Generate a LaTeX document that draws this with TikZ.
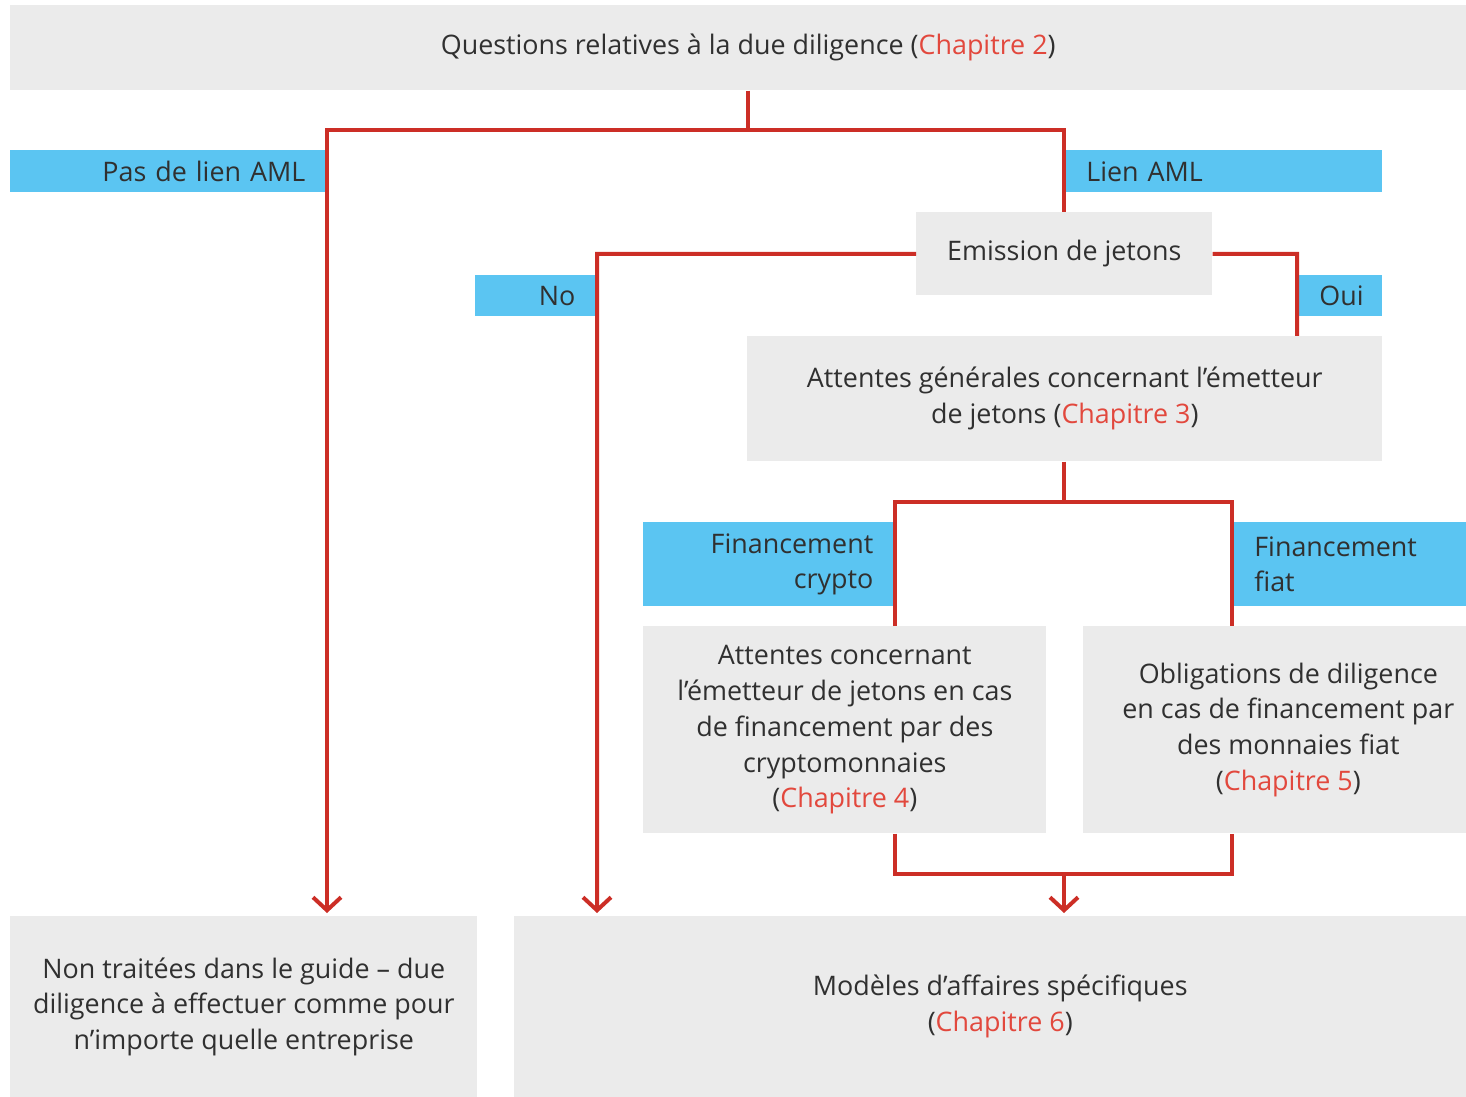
\documentclass[tikz,border=0pt]{standalone}
\usepackage{fontspec}
\setmainfont{Open Sans}
\usetikzlibrary{positioning, arrows.meta}
\definecolor{boxgray}{HTML}{EBEBEB}
\definecolor{amlblue}{HTML}{5BC5F2}
\definecolor{flowred}{HTML}{CC2E26}
\definecolor{chapred}{HTML}{E2483D}
\definecolor{textgray}{HTML}{303030}
\newcommand{\chapitre}[1]{\textcolor{chapred}{Chapitre #1}}

\begin{document}
\begin{tikzpicture}[x=0.02cm, y=-0.02cm,
	every node/.style={font=\fontsize{15.3}{20.4}\selectfont, text=textgray},
	box/.style={fill=boxgray, inner sep=0pt, align=center, anchor=north west},
	tag/.style={fill=amlblue, inner ysep=0pt, inner xsep=0.4cm, anchor=north west},
	flow/.style={draw=flowred, line width=0.08cm},
	down/.style={flow, -{Straight Barb[length=0.26cm, width=0.56cm, line width=0.08cm]}, shorten >=0.06cm}]
	\useasboundingbox (0,0) rectangle (1466,1097);
	\clip (0,0) rectangle (1466,1097);
	
	\node[box, minimum width=29.52cm, minimum height=1.7cm] (questions) at (10,5)
	{Questions relatives à la due diligence (\chapitre{2})};
	\node[tag, minimum width=6.3cm, minimum height=0.84cm, text width=5.5cm, align=right] (paslien) at (10,150)
	{Pas de lien AML};
	\node[tag, minimum width=6.32cm, minimum height=0.84cm, text width=5.52cm, align=left] (lien) at (1066,150)
	{Lien AML};
	\node[box, minimum width=5.92cm, minimum height=1.66cm] (emission) at (916,212)
	{Emission de jetons};
	\node[tag, minimum width=2.4cm, minimum height=0.82cm, text width=1.6cm, align=right] (no) at (475,275)
	{No};
	\node[tag, minimum width=1.66cm, minimum height=0.82cm, text width=0.86cm, align=left] (oui) at (1299,275)
	{Oui};
	\node[box, minimum width=12.7cm, minimum height=2.5cm] (attgen) at (747,336)
	{Attentes générales concernant l’émetteur\\de jetons (\chapitre{3})};
	\node[tag, minimum width=5cm, minimum height=1.68cm, text width=4.2cm, align=right] (fincrypto) at (643,522)
	{Financement\\crypto};
	\node[tag, minimum width=5.2cm, minimum height=1.68cm, text width=4.4cm, align=left] (finfiat) at (1234,522)
	{Financement\\fiat};
	\node[box, minimum width=8.06cm, minimum height=4.14cm] (crypto) at (643,626)
	{Attentes concernant\\l’émetteur de jetons en cas\\de financement par des\\cryptomonnaies\\(\chapitre{4})};
	\node[box, minimum width=8.2cm, minimum height=4.14cm] (fiat) at (1083,626)
	{Obligations de diligence\\en cas de financement par\\des monnaies fiat\\(\chapitre{5})};
	\node[box, minimum width=9.34cm, minimum height=3.62cm] (nontraitees) at (10,916)
	{Non traitées dans le guide – due\\diligence à effectuer comme pour\\n’importe quelle entreprise};
	\node[box, minimum width=19.44cm, minimum height=3.62cm] (modeles) at (514,916)
	{Modèles d’affaires spécifiques\\(\chapitre{6})};
	
	\coordinate (fork1) at (748,130);
	\coordinate (leftdrop) at (327,130);
	\coordinate (nodrop) at (597,254);
	\coordinate (ouidrop) at (1297,254);
	\coordinate (cryptodrop) at (895,502);
	\coordinate (fiatdrop) at (1232,502);
	\coordinate (merge) at (1064,874);
	
	\draw[flow] (questions.south -| fork1) -- (fork1);
	\draw[flow] (fork1) -| (emission.north);
	\draw[down] (fork1) -- (leftdrop) -- (leftdrop |- nontraitees.north);
	\draw[down] (emission.west) -- (nodrop) -- (nodrop |- modeles.north);
	\draw[flow] (emission.east) -- (ouidrop) -- (ouidrop |- attgen.north);
	\draw[flow] (merge |- attgen.south) -- (merge |- cryptodrop);
	\draw[flow] (cryptodrop |- crypto.north) -- (cryptodrop) -- (fiatdrop) -- (fiatdrop |- fiat.north);
	\draw[flow] (cryptodrop |- crypto.south) -- (cryptodrop |- merge) -- (fiatdrop |- merge) -- (fiatdrop |- fiat.south);
	\draw[down] (merge) -- (merge |- modeles.north);
\end{tikzpicture}
\end{document}
